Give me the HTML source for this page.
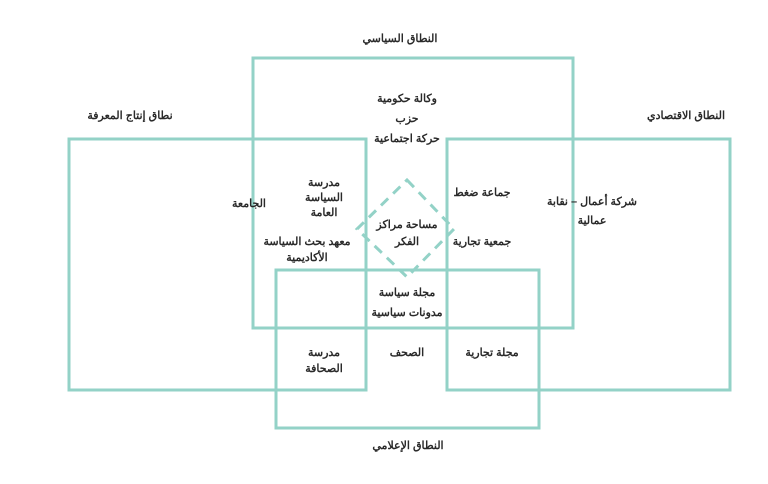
<!DOCTYPE html>
<html><head><meta charset="utf-8"><style>
body{margin:0;background:#fff;}
svg text{font-family:"Liberation Sans","Noto Sans CJK SC",sans-serif;font-weight:bold;font-size:11px;fill:#2a2a2a;text-anchor:middle;direction:rtl;}
</style></head><body>
<svg width="768" height="479" viewBox="0 0 768 479" xmlns="http://www.w3.org/2000/svg">
<g fill="none" stroke="#93d2c7" stroke-width="3">
<rect x="253" y="58" width="320" height="270"/>
<rect x="69" y="139" width="297" height="251"/>
<rect x="447" y="139" width="283" height="251"/>
<rect x="276" y="270" width="263" height="158"/>
<path d="M407 180 L454 229 L407 277 L357 229 Z" stroke-dasharray="10 7"/>
</g>
<text x="400" y="42">النطاق السياسي</text>
<text x="130" y="119">نطاق إنتاج المعرفة</text>
<text x="686" y="119">النطاق الاقتصادي</text>
<text x="408" y="449">النطاق الإعلامي</text>
<text x="407" y="102">وكالة حكومية</text>
<text x="407" y="122">حزب</text>
<text x="407" y="142">حركة اجتماعية</text>
<text x="324" y="186">مدرسة</text>
<text x="324" y="201">السياسة</text>
<text x="324" y="216">العامة</text>
<text x="249" y="207">الجامعة</text>
<text x="307" y="245">معهد بحث السياسة</text>
<text x="307" y="261">الأكاديمية</text>
<text x="407" y="228">مساحة مراكز</text>
<text x="407" y="245">الفكر</text>
<text x="482" y="196">جماعة ضغط</text>
<text x="482" y="245">جمعية تجارية</text>
<text x="592" y="205">شركة أعمال – نقابة</text>
<text x="592" y="224">عمالية</text>
<text x="407" y="296">مجلة سياسة</text>
<text x="407" y="316">مدونات سياسية</text>
<text x="324" y="356">مدرسة</text>
<text x="324" y="372">الصحافة</text>
<text x="407" y="356">الصحف</text>
<text x="492" y="356">مجلة تجارية</text>
</svg>
</body></html>
